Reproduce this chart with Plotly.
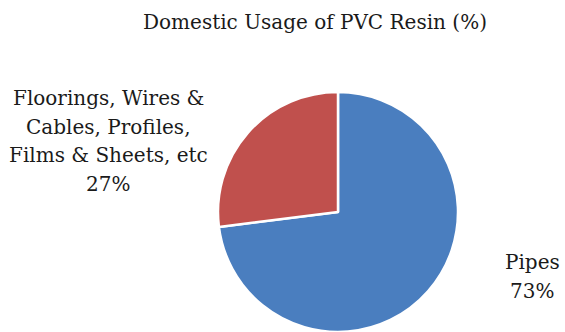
import plotly.graph_objects as go

# Domestic usage shares of PVC resin
categories = ["Pipes", "Floorings, Wires & Cables, Profiles, Films & Sheets, etc"]
values = [73, 27]
label_lines = [["Pipes"], ["Floorings, Wires &", "Cables, Profiles,", "Films & Sheets, etc"]]
colors = ["#4A7EBF", "#C0504D"]
title = "Domestic Usage of PVC Resin (%)"

W, H = 565, 332
FONT = dict(family="DejaVu Serif", size=20, color="#1a1a1a")

# Pie geometry in pixels
cx, cy, r = 338, 212, 120

fig = go.Figure(go.Pie(
    labels=categories,
    values=values,
    sort=False,
    direction="clockwise",
    rotation=0,
    marker=dict(colors=colors, line=dict(color="white", width=2.5)),
    textinfo="none",
    hoverinfo="label+percent",
    showlegend=False,
    domain=dict(x=[(cx - r) / W, (cx + r) / W], y=[(H - cy - r) / H, (H - cy + r) / H]),
))

# Outside labels: category lines followed by the percentage
label_pos = [(532, 262), (108, 98)]
line_step = 28.5
annotations = []
for lines, v, (lx, ly) in zip(label_lines, values, label_pos):
    for i, txt in enumerate(lines + [f"{v}%"]):
        annotations.append(dict(
            x=lx / W, y=1 - (ly + i * line_step) / H, xref="paper", yref="paper",
            text=txt, showarrow=False, xanchor="center", yanchor="middle", font=FONT,
        ))

annotations.append(dict(
    x=315 / W, y=1 - 22 / H, xref="paper", yref="paper", text=title,
    showarrow=False, xanchor="center", yanchor="middle", font=FONT,
))

fig.update_layout(
    width=W, height=H,
    margin=dict(l=0, r=0, t=0, b=0),
    paper_bgcolor="white", plot_bgcolor="white",
    annotations=annotations,
)

fig.write_html("out.html")
